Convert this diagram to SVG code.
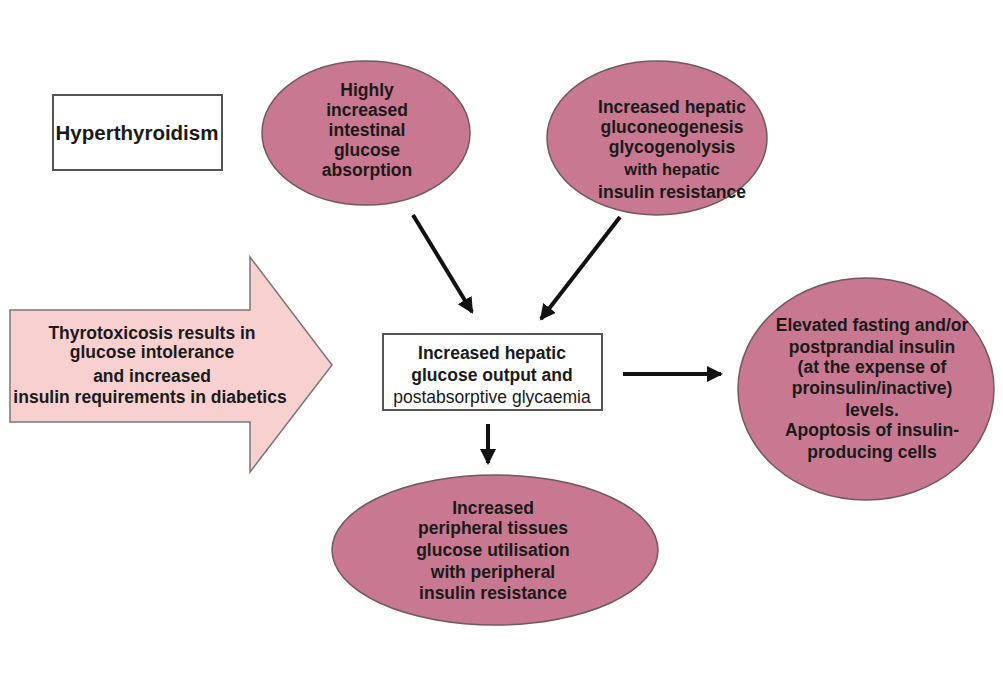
<svg xmlns="http://www.w3.org/2000/svg" width="1003" height="673" viewBox="0 0 1003 673">
<style>
.t{font-family:"Liberation Sans",Arial,sans-serif;font-weight:bold;font-size:17.5px;fill:#1a1a1a;text-anchor:middle}
.n{font-weight:normal;font-size:17.5px}
.oval{fill:#c87890;stroke:#6e5a60;stroke-width:1.5}
.box{fill:#ffffff;stroke:#555;stroke-width:2}
.con{stroke:#111;stroke-width:4;fill:none}
</style>
<defs>
<marker id="ah" markerUnits="userSpaceOnUse" markerWidth="20" markerHeight="20" refX="14" refY="8" orient="auto">
<path d="M0,0 L16,8 L0,16 z" fill="#111"/>
</marker>
</defs>
<rect width="1003" height="673" fill="#ffffff"/>

<g id="hyperthyroidism">
<rect class="box" x="53" y="95" width="169" height="75"/>
<text class="t" x="137" y="140" style="font-size:20.5px">Hyperthyroidism</text>
</g>

<g id="intestinal">
<ellipse class="oval" cx="366" cy="133" rx="104" ry="72"/>
<text class="t" x="367" y="96">Highly</text>
<text class="t" x="367" y="116">increased</text>
<text class="t" x="367" y="136">intestinal</text>
<text class="t" x="367" y="156">glucose</text>
<text class="t" x="367" y="176">absorption</text>
</g>

<g id="hepatic">
<ellipse class="oval" cx="657" cy="138" rx="110" ry="77"/>
<text class="t" x="672" y="113">Increased hepatic</text>
<text class="t" x="672" y="133">gluconeogenesis</text>
<text class="t" x="672" y="153">glycogenolysis</text>
<text class="t" x="672" y="175" style="font-size:16.5px">with hepatic</text>
<text class="t" x="672" y="198">insulin resistance</text>
</g>

<g id="thyrotoxicosis">
<polygon points="10,310 250,310 250,257 332,365 250,472 250,422 10,422" fill="#f9d0d0" stroke="#777" stroke-width="1.5"/>
<text class="t" x="152" y="339">Thyrotoxicosis results in</text>
<text class="t" x="152" y="358">glucose intolerance</text>
<text class="t" x="152" y="382">and increased</text>
<text class="t" x="150" y="403">insulin requirements in diabetics</text>
</g>

<g id="output">
<rect class="box" x="383" y="334" width="219" height="76"/>
<text class="t" x="492" y="359">Increased hepatic</text>
<text class="t" x="492" y="381">glucose output and</text>
<text class="t n" x="492" y="403">postabsorptive glycaemia</text>
</g>

<g id="insulin">
<ellipse class="oval" cx="866" cy="389" rx="128" ry="111"/>
<text class="t" x="872" y="331">Elevated fasting and/or</text>
<text class="t" x="872" y="353">postprandial insulin</text>
<text class="t" x="872" y="373">(at the expense of</text>
<text class="t" x="872" y="394">proinsulin/inactive)</text>
<text class="t" x="872" y="416">levels.</text>
<text class="t" x="872" y="436">Apoptosis of insulin-</text>
<text class="t" x="872" y="458">producing cells</text>
</g>

<g id="peripheral">
<ellipse class="oval" cx="495" cy="550" rx="163" ry="75"/>
<text class="t" x="493" y="514">Increased</text>
<text class="t" x="493" y="534">peripheral tissues</text>
<text class="t" x="493" y="556">glucose utilisation</text>
<text class="t" x="493" y="578">with peripheral</text>
<text class="t" x="493" y="599">insulin resistance</text>
</g>

<g id="connectors">
<line class="con" x1="413" y1="215" x2="472" y2="312" marker-end="url(#ah)"/>
<line class="con" x1="620" y1="217" x2="541" y2="319" marker-end="url(#ah)"/>
<line class="con" x1="623" y1="374" x2="721" y2="374" marker-end="url(#ah)"/>
<line class="con" x1="488" y1="424" x2="488" y2="463" marker-end="url(#ah)"/>
</g>
</svg>
